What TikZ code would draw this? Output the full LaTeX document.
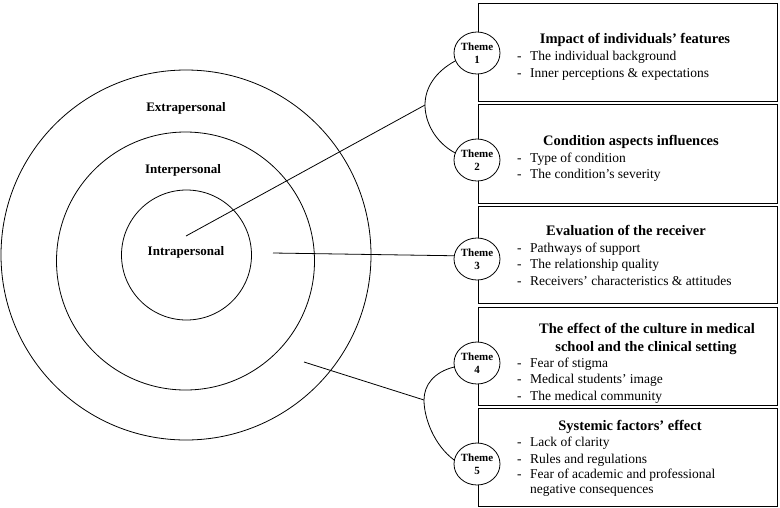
\documentclass[tikz,border=0pt]{standalone}
\usepackage{fontspec}
\setmainfont{Liberation Serif}
\usetikzlibrary{shapes.geometric}
\newcommand\itm[3]{\node[item] (#1) at (517,#2) {\makebox[13pt][l]{-}#3};}
\begin{document}
\begin{tikzpicture}[x=1pt,y=-1pt,
  ring/.style={circle, draw, line width=0.8pt, inner sep=0},
  box/.style={draw, line width=0.8pt, inner sep=0, minimum width=299pt},
  theme/.style={ellipse, draw, fill=white, line width=0.8pt, minimum width=46pt, minimum height=42pt, inner sep=0, font=\fontsize{11}{12.5}\selectfont\bfseries, align=center},
  title/.style={anchor=base, font=\fontsize{14.5}{18}\selectfont\bfseries, inner sep=0},
  item/.style={anchor=base west, font=\fontsize{13.5}{16}\selectfont, inner sep=0},
  lbl/.style={font=\fontsize{13}{15}\selectfont\bfseries, inner sep=0},
  conn/.style={line width=0.8pt}]
\useasboundingbox (0,0) rectangle (780,507);
% rings
\node[ring, minimum size=370pt] (outer) at (186,255) {};
\node[ring, minimum size=258pt] (middle) at (185.5,261) {};
\node[ring, minimum size=130pt] (inner) at (186.5,255) {};
\node[lbl] (extra) at (186,108) {Extrapersonal};
\node[lbl] (inter) at (183,170) {Interpersonal};
\node[lbl] (intra) at (186,252) {Intrapersonal};
% boxes
\node[box, minimum height=98pt] (box1) at (627.5,52) {};
\node[box, minimum height=99pt] (box2) at (627.5,153.5) {};
\node[box, minimum height=97pt] (box3) at (627.5,254.5) {};
\node[box, minimum height=98pt] (box4) at (627.5,356) {};
\node[box, minimum height=98pt] (box5) at (627.5,457) {};
% titles
\node[title] (h1) at (635,43) {Impact of individuals’ features};
\node[title] (h2) at (631,145) {Condition aspects influences};
\node[title] (h3) at (626,235) {Evaluation of the receiver};
\node[title] (h4a) at (647,333) {The effect of the culture in medical};
\node[title] (h4b) at (646,351) {school and the clinical setting};
\node[title] (h5) at (630,430) {Systemic factors’ effect};
% items
\itm{i11}{60}{The individual background}
\itm{i12}{77}{Inner perceptions \& expectations}
\itm{i21}{162}{Type of condition}
\itm{i22}{178}{The condition’s severity}
\itm{i31}{252}{Pathways of support}
\itm{i32}{268}{The relationship quality}
\itm{i33}{285}{Receivers’ characteristics \& attitudes}
\itm{i41}{367}{Fear of stigma}
\itm{i42}{383}{Medical students’ image}
\itm{i43}{400}{The medical community}
\itm{i51}{446}{Lack of clarity}
\itm{i52}{463}{Rules and regulations}
\itm{i53}{478}{Fear of academic and professional}
\node[item] (i54) at (530,493) {negative consequences};
% themes
\node[theme] (t1) at (477,53) {Theme\\1};
\node[theme] (t2) at (477,160) {Theme\\2};
\node[theme] (t3) at (477,259) {Theme\\3};
\node[theme] (t4) at (477,363) {Theme\\4};
\node[theme] (t5) at (477,464) {Theme\\5};
% connectors
\coordinate (p1) at (186,236);
\coordinate (a12) at (425,105);
\coordinate (p3) at (273,253);
\coordinate (p4) at (304,362);
\coordinate (a45) at (424,400);
\draw[conn] (p1) -- (a12);
\draw[conn] (t1.200) .. controls (435,72) and (425,88) .. (a12) .. controls (425,122) and (435,142) .. (t2.162);
\draw[conn] (p3) -- (t3.172);
\draw[conn] (p4) -- (a45);
\draw[conn] (t4.190) .. controls (434,372) and (424,385) .. (a45) .. controls (424,418) and (434,445) .. (t5.170);
\end{tikzpicture}
\end{document}
